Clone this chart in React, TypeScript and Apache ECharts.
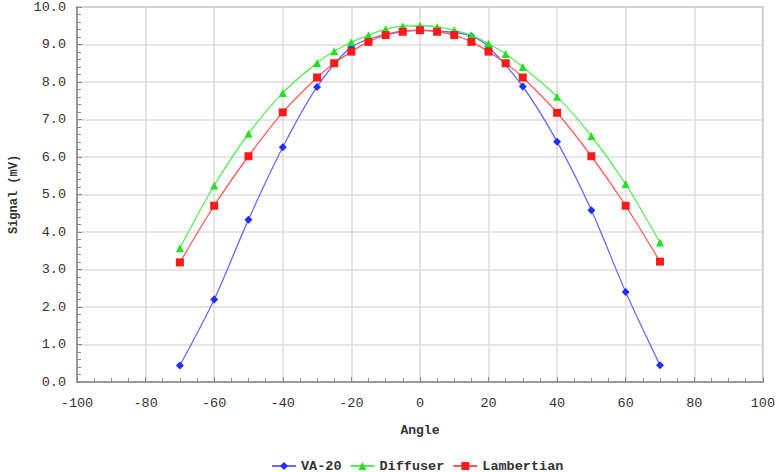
import React, { useEffect, useRef } from "react";
import * as echarts from "echarts";

const xTicks = [-100, -80, -60, -40, -20, 0, 20, 40, 60, 80, 100];
const yTicks = [0, 1, 2, 3, 4, 5, 6, 7, 8, 9, 10];

const anglesDL = [-70, -60, -50, -40, -30, -25, -20, -15, -10, -5, 0, 5, 10, 15, 20, 25, 30, 40, 50, 60, 70];
const diffuser = [3.57, 5.24, 6.62, 7.71, 8.51, 8.82, 9.06, 9.25, 9.41, 9.49, 9.5, 9.47, 9.38, 9.25, 9.02, 8.75, 8.4, 7.61, 6.56, 5.28, 3.72];
const lambertian = [3.19, 4.7, 6.02, 7.19, 8.12, 8.5, 8.81, 9.07, 9.25, 9.34, 9.38, 9.34, 9.25, 9.07, 8.81, 8.5, 8.12, 7.18, 6.02, 4.7, 3.21];

const anglesVA = [-70, -60, -50, -40, -30, -20, -10, 0, 10, 15, 20, 30, 40, 50, 60, 70];
const va20 = [0.44, 2.2, 4.33, 6.26, 7.87, 8.93, 9.27, 9.38, 9.32, 9.23, 8.94, 7.88, 6.41, 4.58, 2.4, 0.45];

const font = "'Liberation Mono', 'DejaVu Sans Mono', monospace";

export default function App() {
  const ref = useRef<HTMLDivElement>(null);
  useEffect(() => {
    if (!ref.current) return;
    const chart = echarts.init(ref.current, undefined, { renderer: "svg" });
    const pair = (xs: number[], ys: number[]) => xs.map((x, i) => [x, ys[i]]);
    chart.setOption({
      animation: false,
      backgroundColor: "#ffffff",
      grid: {
        left: 67,
        right: 14,
        top: 7,
        bottom: 90,
        show: true,
        borderColor: "#b4b4b4",
        borderWidth: 2,
      },
      legend: {
        left: 266,
        top: 454,
        itemWidth: 24,
        itemHeight: 10,
        itemGap: 8,
        textStyle: { fontFamily: font, fontSize: 13.5, fontWeight: "bold", color: "#333" },
        data: ["VA-20", "Diffuser", "Lambertian"],
      },
      xAxis: {
        type: "value",
        min: xTicks[0],
        max: xTicks[xTicks.length - 1],
        interval: 20,
        name: "Angle",
        nameLocation: "middle",
        nameGap: 42,
        nameTextStyle: { fontFamily: font, fontSize: 13, fontWeight: "bold", color: "#333" },
        axisLine: { onZero: false, lineStyle: { color: "#9a9a9a", width: 2 } },
        axisTick: { inside: true, length: 5, lineStyle: { color: "#888" } },
        minorTick: { show: true, splitNumber: 4, length: 4, lineStyle: { color: "#888" } },
        axisLabel: { fontFamily: font, fontSize: 13.5, color: "#333", margin: 14 },
        splitLine: { show: true, lineStyle: { color: "#dcdcdc", width: 1.5 } },
      },
      yAxis: {
        type: "value",
        min: yTicks[0],
        max: yTicks[yTicks.length - 1],
        interval: 1,
        name: "Signal (mV)",
        nameLocation: "middle",
        nameGap: 57,
        nameTextStyle: { fontFamily: font, fontSize: 12, fontWeight: "bold", color: "#333" },
        axisLine: { show: true, onZero: false, lineStyle: { color: "#9a9a9a", width: 2 } },
        axisTick: { show: true, inside: true, length: 5, lineStyle: { color: "#888" } },
        minorTick: { show: true, splitNumber: 5, length: 4, lineStyle: { color: "#888" } },
        axisLabel: {
          fontFamily: font,
          fontSize: 13.5,
          color: "#333",
          margin: 11,
          formatter: (v: number) => v.toFixed(1),
        },
        splitLine: { show: true, lineStyle: { color: "#dcdcdc", width: 1.5 } },
      },
      series: [
        {
          name: "VA-20",
          type: "line",
          smooth: 0.3,
          data: pair(anglesVA, va20),
          symbol: "diamond",
          symbolSize: 8,
          itemStyle: { color: "#1f2fff" },
          lineStyle: { color: "#6a6aff", width: 1.3 },
          z: 2,
        },
        {
          name: "Diffuser",
          type: "line",
          smooth: 0.3,
          data: pair(anglesDL, diffuser),
          symbol: "triangle",
          symbolSize: 8,
          itemStyle: { color: "#22e022" },
          lineStyle: { color: "#55ee55", width: 1.3 },
          z: 3,
        },
        {
          name: "Lambertian",
          type: "line",
          smooth: 0.3,
          data: pair(anglesDL, lambertian),
          symbol: "rect",
          symbolSize: 8,
          itemStyle: { color: "#ff1a1a" },
          lineStyle: { color: "#ff5a5a", width: 1.3 },
          z: 4,
        },
      ],
    });
    return () => chart.dispose();
  }, []);
  return <div ref={ref} style={{ width: 778, height: 472, position: "absolute", left: 0, top: 0 }} />;
}
